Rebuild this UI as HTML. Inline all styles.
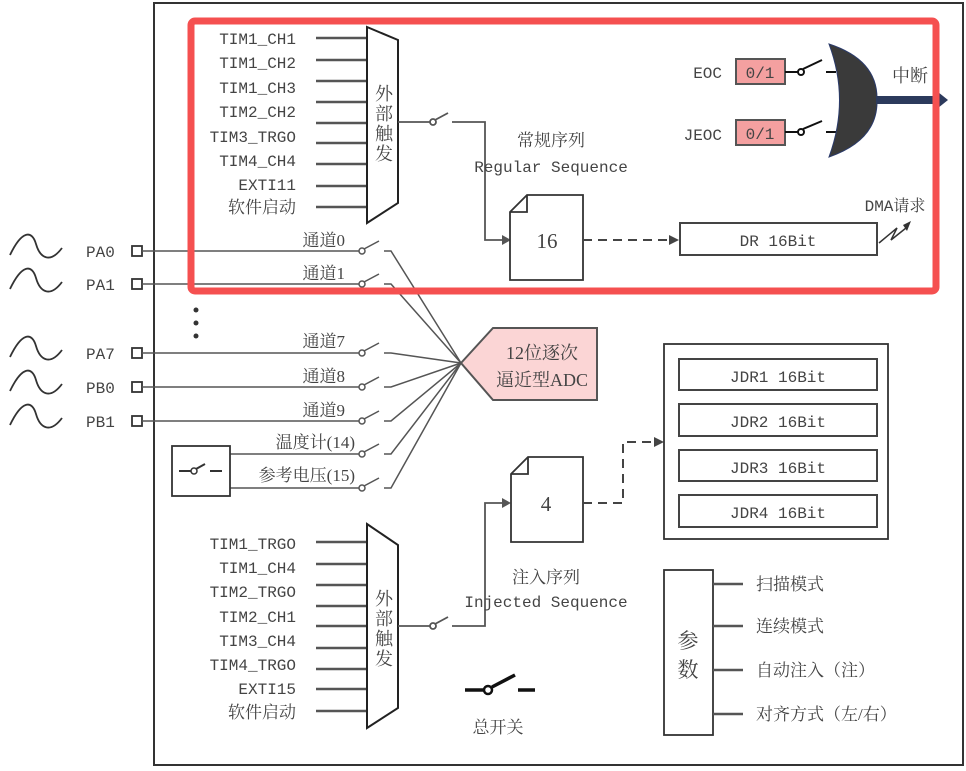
<!DOCTYPE html>
<html><head><meta charset="utf-8"><style>
html,body{margin:0;padding:0;background:#fff;}
svg{display:block;}
.m{font-family:"Liberation Mono","Noto Serif CJK SC",monospace;font-size:16px;fill:#444;}
.c{font-family:"Liberation Serif","Noto Serif CJK SC",serif;font-size:17px;fill:#444;}
</style></head><body>
<svg width="966" height="771" viewBox="0 0 966 771" xmlns="http://www.w3.org/2000/svg">
<rect x="154" y="3" width="809" height="762" fill="none" stroke="#333" stroke-width="2"/>

<!-- top mux -->
<g stroke="#555" stroke-width="2.5">
<line x1="316" y1="38" x2="367" y2="38"/><line x1="316" y1="60" x2="367" y2="60"/><line x1="316" y1="81" x2="367" y2="81"/>
<line x1="316" y1="102" x2="367" y2="102"/><line x1="316" y1="123" x2="367" y2="123"/><line x1="316" y1="143" x2="367" y2="143"/>
<line x1="316" y1="164" x2="367" y2="164"/><line x1="316" y1="186" x2="367" y2="186"/><line x1="316" y1="207" x2="367" y2="207"/>
</g>
<polygon points="367,27 398,40 398,203 367,223" fill="#fff" stroke="#222" stroke-width="2"/>
<g class="m" text-anchor="end">
<text x="296" y="44">TIM1_CH1</text><text x="296" y="68">TIM1_CH2</text><text x="296" y="93">TIM1_CH3</text>
<text x="296" y="117">TIM2_CH2</text><text x="296" y="142">TIM3_TRGO</text><text x="296" y="166">TIM4_CH4</text>
<text x="296" y="190">EXTI11</text><text x="296" y="213" style="font-size:17px">软件启动</text>
</g>
<g class="c" text-anchor="middle" style="font-size:18px"><text x="384" y="100">外</text><text x="384" y="120">部</text><text x="384" y="140">触</text><text x="384" y="160">发</text></g>
<g stroke="#555" stroke-width="1.8" fill="none">
<line x1="398" y1="122" x2="430" y2="122"/><circle cx="433" cy="122" r="3" fill="#fff"/><line x1="435" y1="120" x2="448" y2="113"/>
<polyline points="452,122 485,122 485,240 505,240"/>
</g>
<polygon points="502,235 511,240 502,245" fill="#555"/>
<path d="M510,212 L527,195 L583,195 L583,280 L510,280 Z M510,212 L527,212 L527,195" fill="#fff" stroke="#333" stroke-width="1.8"/>
<text class="c" x="547" y="248" text-anchor="middle" style="font-size:21px">16</text>
<text class="c" x="551" y="146" text-anchor="middle">常规序列</text>
<text class="m" x="551" y="172" text-anchor="middle">Regular Sequence</text>
<line x1="583" y1="240" x2="670" y2="240" stroke="#444" stroke-width="2" stroke-dasharray="9,6"/>
<polygon points="669,235 679,240 669,245" fill="#444"/>
<rect x="680" y="223" width="197" height="32" fill="#fff" stroke="#444" stroke-width="2"/>
<text class="m" x="778" y="246" text-anchor="middle">DR 16Bit</text>
<text class="m" x="895" y="211" text-anchor="middle">DMA请求</text>
<polyline points="879,243 897,228 891,240 906,228" fill="none" stroke="#333" stroke-width="1.5"/>
<polygon points="903,225 911,221 907,231" fill="#333"/>

<!-- EOC -->
<text class="m" x="722" y="78" text-anchor="end">EOC</text>
<text class="m" x="722" y="140" text-anchor="end">JEOC</text>
<rect x="736" y="59" width="49" height="25" fill="#f4a0a0" stroke="#555" stroke-width="2"/>
<rect x="736" y="120" width="49" height="25" fill="#f4a0a0" stroke="#555" stroke-width="2"/>
<text class="m" x="760" y="78" text-anchor="middle">0/1</text>
<text class="m" x="760" y="139" text-anchor="middle">0/1</text>
<g stroke="#111" stroke-width="2" fill="none">
<line x1="785" y1="72" x2="798" y2="72"/><circle cx="801" cy="72" r="3" fill="#fff"/><line x1="803" y1="69" x2="822" y2="60"/><line x1="826" y1="72" x2="836" y2="72"/>
<line x1="785" y1="132" x2="798" y2="132"/><circle cx="801" cy="132" r="3" fill="#fff"/><line x1="803" y1="129" x2="822" y2="121"/><line x1="826" y1="132" x2="836" y2="132"/>
</g>
<path d="M829,44 Q878,60 877,100 Q878,140 829,157 Q850,100 829,44 Z" fill="#3a3a3a" stroke="#2a3a6a" stroke-width="1"/>
<line x1="876" y1="100" x2="940" y2="100" stroke="#2c3a5c" stroke-width="8"/>
<polygon points="938,92 948,100 938,108" fill="#2c3a5c"/>
<text class="c" x="910" y="82" text-anchor="middle" style="font-size:18px">中断</text>

<!-- channels -->
<g fill="none" stroke="#333" stroke-width="1.8">
<path d="M10,255 C22,230 32,230 36,244 C40,258 50,264 62,248"/>
<path d="M10,289 C22,264 32,264 36,278 C40,292 50,298 62,282"/>
<path d="M10,357 C22,332 32,332 36,346 C40,360 50,366 62,350"/>
<path d="M10,391 C22,366 32,366 36,380 C40,394 50,400 62,384"/>
<path d="M10,425 C22,400 32,400 36,414 C40,428 50,434 62,418"/>
<rect x="132" y="246" width="10" height="10"/><rect x="132" y="279" width="10" height="10"/>
<rect x="132" y="348" width="10" height="10"/><rect x="132" y="382" width="10" height="10"/><rect x="132" y="416" width="10" height="10"/>
</g>
<g class="m"><text x="86" y="257">PA0</text><text x="86" y="290">PA1</text><text x="86" y="359">PA7</text><text x="86" y="393">PB0</text><text x="86" y="427">PB1</text></g>
<g fill="#333"><circle cx="196" cy="310" r="2.5"/><circle cx="196" cy="323" r="2.5"/><circle cx="196" cy="336" r="2.5"/></g>
<g stroke="#555" stroke-width="1.5" fill="none">
<line x1="142" y1="251" x2="359" y2="251"/><line x1="142" y1="284" x2="359" y2="284"/><line x1="142" y1="353" x2="359" y2="353"/>
<line x1="142" y1="387" x2="359" y2="387"/><line x1="142" y1="421" x2="359" y2="421"/>
<line x1="230" y1="454" x2="359" y2="454"/><line x1="230" y1="488" x2="359" y2="488"/>
<g fill="#fff"><circle cx="362" cy="251" r="3"/><circle cx="362" cy="284" r="3"/><circle cx="362" cy="353" r="3"/><circle cx="362" cy="387" r="3"/><circle cx="362" cy="421" r="3"/><circle cx="362" cy="454" r="3"/><circle cx="362" cy="488" r="3"/></g>
<line x1="364" y1="249" x2="379" y2="241"/><line x1="364" y1="282" x2="379" y2="274"/><line x1="364" y1="351" x2="379" y2="343"/>
<line x1="364" y1="385" x2="379" y2="377"/><line x1="364" y1="419" x2="379" y2="411"/><line x1="364" y1="452" x2="379" y2="444"/><line x1="364" y1="486" x2="379" y2="478"/>
<polyline points="384,251 391,251 461,363"/><polyline points="384,284 391,284 461,363"/><polyline points="384,353 391,353 461,363"/>
<polyline points="384,387 391,387 461,363"/><polyline points="384,421 391,421 461,363"/><polyline points="384,454 391,454 461,363"/><polyline points="384,488 391,488 461,363"/>
</g>
<g class="c" text-anchor="end"><text x="345" y="246">通道0</text><text x="345" y="279">通道1</text><text x="345" y="347">通道7</text>
<text x="345" y="382">通道8</text><text x="345" y="416">通道9</text><text x="355" y="448">温度计(14)</text><text x="355" y="481">参考电压(15)</text></g>
<rect x="172" y="446" width="58" height="50" fill="#fff" stroke="#333" stroke-width="1.8"/>
<g stroke="#333" stroke-width="2"><line x1="179" y1="471" x2="191" y2="471"/><line x1="196" y1="469" x2="205" y2="464"/><line x1="210" y1="471" x2="222" y2="471"/></g>
<circle cx="194" cy="471" r="3" fill="#fff" stroke="#333" stroke-width="1.5"/>
<polygon points="461,363 493,328 597,328 597,400 493,400" fill="#fbd5d5" stroke="#555" stroke-width="2"/>
<text class="c" x="542" y="359" text-anchor="middle" style="font-size:18px">12位逐次</text>
<text class="c" x="542" y="386" text-anchor="middle" style="font-size:18px">逼近型ADC</text>

<!-- injected -->
<g stroke="#555" stroke-width="2.5">
<line x1="316" y1="542" x2="367" y2="542"/><line x1="316" y1="564" x2="367" y2="564"/><line x1="316" y1="585" x2="367" y2="585"/>
<line x1="316" y1="606" x2="367" y2="606"/><line x1="316" y1="626" x2="367" y2="626"/><line x1="316" y1="648" x2="367" y2="648"/>
<line x1="316" y1="669" x2="367" y2="669"/><line x1="316" y1="689" x2="367" y2="689"/><line x1="316" y1="711" x2="367" y2="711"/>
</g>
<polygon points="367,524 398,545 398,708 367,728" fill="#fff" stroke="#222" stroke-width="2"/>
<g class="m" text-anchor="end">
<text x="296" y="549">TIM1_TRGO</text><text x="296" y="573">TIM1_CH4</text><text x="296" y="597">TIM2_TRGO</text>
<text x="296" y="622">TIM2_CH1</text><text x="296" y="646">TIM3_CH4</text><text x="296" y="670">TIM4_TRGO</text>
<text x="296" y="694">EXTI15</text><text x="296" y="718" style="font-size:17px">软件启动</text>
</g>
<g class="c" text-anchor="middle" style="font-size:18px"><text x="384" y="605">外</text><text x="384" y="625">部</text><text x="384" y="645">触</text><text x="384" y="665">发</text></g>
<g stroke="#555" stroke-width="1.8" fill="none">
<line x1="398" y1="626" x2="430" y2="626"/><circle cx="433" cy="626" r="3" fill="#fff"/><line x1="435" y1="624" x2="448" y2="617"/>
<polyline points="452,626 485,626 485,503 505,503"/>
</g>
<polygon points="502,498 511,503 502,508" fill="#555"/>
<path d="M511,474 L528,457 L583,457 L583,542 L511,542 Z M511,474 L528,474 L528,457" fill="#fff" stroke="#333" stroke-width="1.8"/>
<text class="c" x="546" y="511" text-anchor="middle" style="font-size:21px">4</text>
<text class="c" x="546" y="583" text-anchor="middle">注入序列</text>
<text class="m" x="546" y="607" text-anchor="middle">Injected Sequence</text>
<polyline points="583,503 623,503 623,442 655,442" fill="none" stroke="#444" stroke-width="2" stroke-dasharray="9,6"/>
<polygon points="654,437 664,442 654,447" fill="#444"/>
<rect x="664" y="344" width="224" height="195" fill="#fff" stroke="#333" stroke-width="1.8"/>
<g fill="#fff" stroke="#444" stroke-width="2">
<rect x="679" y="359" width="198" height="31"/><rect x="679" y="404" width="198" height="32"/><rect x="679" y="450" width="198" height="31"/><rect x="679" y="495" width="198" height="32"/></g>
<g class="m" text-anchor="middle"><text x="778" y="382">JDR1 16Bit</text><text x="778" y="427">JDR2 16Bit</text><text x="778" y="473">JDR3 16Bit</text><text x="778" y="518">JDR4 16Bit</text></g>

<rect x="664" y="570" width="49" height="165" fill="#fff" stroke="#333" stroke-width="1.8"/>
<text class="c" x="688" y="648" text-anchor="middle" style="font-size:21px">参</text>
<text class="c" x="688" y="677" text-anchor="middle" style="font-size:21px">数</text>
<g stroke="#555" stroke-width="2.5"><line x1="713" y1="584" x2="743" y2="584"/><line x1="713" y1="626" x2="743" y2="626"/><line x1="713" y1="670" x2="743" y2="670"/><line x1="713" y1="714" x2="743" y2="714"/></g>
<g class="c"><text x="756" y="590">扫描模式</text><text x="756" y="632">连续模式</text><text x="756" y="676">自动注入（注）</text><text x="756" y="720">对齐方式（左/右）</text></g>

<g stroke="#111" stroke-width="3.5"><line x1="465" y1="690" x2="484" y2="690"/><line x1="492" y1="687" x2="515" y2="675"/><line x1="518" y1="690" x2="535" y2="690"/></g>
<circle cx="488" cy="690" r="4" fill="#fff" stroke="#111" stroke-width="2.5"/>
<text class="c" x="498" y="733" text-anchor="middle">总开关</text>

<rect x="191" y="21" width="745" height="270" rx="4" fill="none" stroke="#f55050" stroke-width="7"/>
</svg>
</body></html>
